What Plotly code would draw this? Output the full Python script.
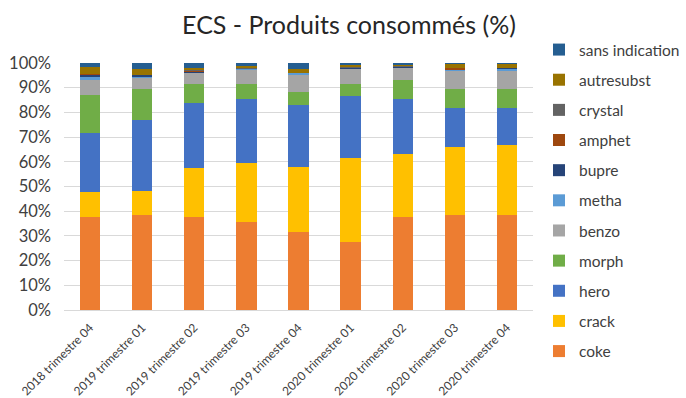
import plotly.graph_objects as go

quarters = ["2018 trimestre 04", "2019 trimestre 01", "2019 trimestre 02", "2019 trimestre 03",
            "2019 trimestre 04", "2020 trimestre 01", "2020 trimestre 02", "2020 trimestre 03",
            "2020 trimestre 04"]

coke       = [37.7, 38.3, 37.5, 35.6, 31.7, 27.5, 37.7, 38.3, 38.3]
crack      = [10.0,  9.8, 20.0, 24.0, 26.3, 34.0, 25.5, 27.7, 28.5]
hero       = [24.1, 28.7, 26.5, 26.0, 24.9, 25.2, 22.2, 15.8, 15.0]
morph      = [15.3, 12.6,  7.6,  5.8,  5.4,  4.9,  7.6,  7.7,  7.8]
benzo      = [ 6.4,  4.8,  4.5,  5.9,  6.7,  6.0,  5.0,  7.3,  7.3]
metha      = [ 0.7,  0.4,  0.2,  0.4,  1.0,  0.3,  0.2,  0.6,  1.0]
bupre      = [ 1.2,  0.5,  0.1,  0.1,  0.0,  0.1,  0.3,  0.1,  0.1]
amphet     = [ 0.1,  0.0,  0.5,  0.1,  0.0,  0.1,  0.2,  0.3,  0.0]
crystal    = [ 0.0,  0.0,  0.1,  0.1,  0.0,  0.1,  0.1,  0.0,  0.1]
autresubst = [ 3.0,  2.6,  1.0,  0.7,  1.7,  1.1,  0.4,  1.9,  1.6]
sans_ind   = [ 1.5,  2.3,  2.0,  1.3,  2.3,  0.7,  0.8,  0.3,  0.3]

series_names = ["coke", "crack", "hero", "morph", "benzo", "metha", "bupre",
                "amphet", "crystal", "autresubst", "sans indication"]
series_values = [coke, crack, hero, morph, benzo, metha, bupre, amphet, crystal,
                 autresubst, sans_ind]
series_colors = ["#ED7D31", "#FFC000", "#4472C4", "#70AD47", "#A5A5A5", "#5B9BD5",
                 "#264478", "#9E480E", "#636363", "#997300", "#255E91"]

y_ticks = list(range(0, 101, 10))
y_ticktext = [f"{v}%" for v in y_ticks]

FONT = "Lato, 'Liberation Sans', sans-serif"
TXT = "#404040"

fig = go.Figure()
n = len(series_names)
for i, (name, vals, col) in enumerate(zip(series_names, series_values, series_colors)):
    fig.add_trace(go.Bar(x=quarters, y=vals, name=name, legendgroup=name,
                         legendrank=n - i,
                         marker=dict(color=col, line=dict(width=0))))

fig.update_layout(
    width=686, height=398,
    barmode="stack", bargap=0.61,
    paper_bgcolor="white", plot_bgcolor="white",
    margin=dict(l=64, r=153, t=63, b=88),
    font=dict(family=FONT, color=TXT),
    title=dict(text="ECS - Produits consommés (%)", x=349 / 686, xanchor="center",
               y=1 - 25 / 398, yanchor="middle",
               font=dict(family=FONT, size=25, color="#262626")),
    legend=dict(traceorder="grouped", tracegroupgap=7,
                x=539 / 686, xanchor="left", xref="container",
                y=1 - 33 / 398, yanchor="top", yref="container",
                maxheight=1,
                font=dict(family=FONT, size=15.5, color=TXT),
                itemclick=False),
    showlegend=True,
)

fig.update_yaxes(range=[0, 100], tickvals=y_ticks, ticktext=y_ticktext, automargin=False,
                 showgrid=True, gridcolor="#D9D9D9", gridwidth=1, zeroline=False,
                 showline=False, tickfont=dict(family=FONT, size=16.5, color=TXT),
                 ticklabelstandoff=12)
fig.update_xaxes(tickangle=-45, tickfont=dict(family=FONT, size=12, color=TXT),
                 automargin=False,
                 showline=True, linecolor="#D9D9D9", linewidth=1, ticks="",
                 ticklabelstandoff=5)

fig.write_html("out.html")
